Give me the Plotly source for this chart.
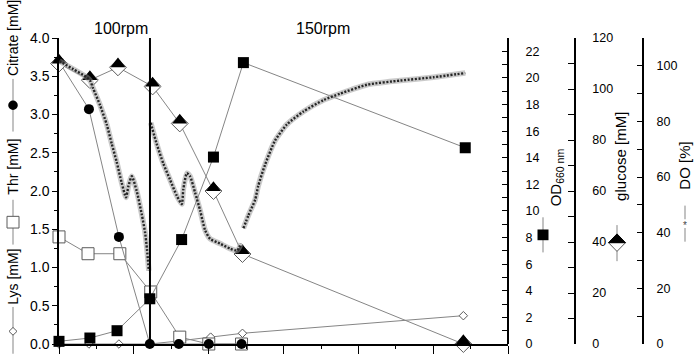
import plotly.graph_objects as go

# ---------------- data (time in h) ----------------
rpm_switch_time = 4.86
rpm_labels = ["100rpm", "150rpm"]

citrate_t = [0, 1.6, 3.2, 4.85, 6.4, 8.0, 9.75]
citrate = [3.69, 3.07, 1.40, 0, 0, 0, 0]

thr_t = [0, 1.55, 3.25, 4.9, 6.45, 8.0, 9.75]
thr = [1.40, 1.18, 1.18, 0.68, 0.09, 0.0, 0.0]

lys_t = [0, 1.6, 3.2, 4.85, 6.4, 8.1, 9.8, 21.6]
lys = [0, 0, 0, 0, 0.04, 0.09, 0.14, 0.37]

od_t = [0, 1.65, 3.1, 4.85, 6.55, 8.25, 9.85, 21.7]
od = [0.2, 0.45, 1.0, 3.4, 7.85, 14.05, 21.15, 14.75]

glc_t = [0, 1.65, 3.15, 5.0, 6.45, 8.25, 9.8, 21.6]
glc = [110, 103.5, 108.5, 101, 86.5, 60, 35.3, 0]

do_t = [0.02, 0.76, 1.48, 1.66, 1.83, 2.19, 2.55, 2.82, 3.08, 3.35, 3.58, 3.71, 3.89, 4.15, 4.42, 4.6, 4.7, 4.8,
        None,
        4.9, 5.22, 5.57, 5.93, 6.29, 6.56, 6.64, 6.83, 7.0, 7.27, 7.54, 7.8, 8.07, 8.6, 9.14, 9.51, 9.73,
        None,
        9.85, 10.12, 10.48, 10.64, 11.01, 11.54, 12.17, 13.06, 14.13, 15.02, 16.45, 18.23, 20.0, 21.7]
do = [101.7, 98.8, 95.9, 94.7, 91.8, 85.9, 78.9, 71.9, 65.5, 57.9, 52.7, 56.8, 60.3, 55, 46.6, 40, 34, 26.3,
      None,
      79.5, 71.9, 64.9, 59.1, 53.3, 50.3, 55.6, 61.4, 60.3, 54.4, 48.0, 41.0, 37.8, 36.1, 34.3, 33.6, 36.1,
      None,
      41.6, 46.3, 51.9, 56.8, 64.5, 73.1, 78.9, 83.6, 87.7, 90.0, 93.2, 94.7, 95.9, 97.4]

# ---------------- layout helpers ----------------
W, H = 700, 362
ML, MR, MT, MB = 59, 20, 38, 10
PW = W - ML - MR
PH = H - MT - MB


def fx(px):
    return (px - ML) / PW


def fy(py):
    return (H - MB - py) / PH


FONT = "Liberation Sans, Arial, sans-serif"
LINE_GRAY = "#858585"
EDGE_GRAY = "#5a5a5a"

fig = go.Figure()

# DO curve (halo + dotted core)
fig.add_trace(go.Scatter(x=do_t, y=do, yaxis="y4", mode="lines", connectgaps=False,
                         line=dict(color="rgba(150,150,150,0.5)", width=5.5, shape="spline", smoothing=0.6),
                         hoverinfo="skip", showlegend=False))
fig.add_trace(go.Scatter(x=do_t, y=do, yaxis="y4", mode="lines", connectgaps=False,
                         line=dict(color="#262626", width=2.4, shape="spline", smoothing=0.6, dash="2px,1.6px"),
                         showlegend=False))

# Lys
fig.add_trace(go.Scatter(x=lys_t, y=lys, yaxis="y", mode="lines+markers", cliponaxis=False,
                         line=dict(color=LINE_GRAY, width=1),
                         marker=dict(symbol="diamond", size=6.5, color="white",
                                     line=dict(color=EDGE_GRAY, width=1)),
                         showlegend=False))
# Thr
fig.add_trace(go.Scatter(x=thr_t, y=thr, yaxis="y", mode="lines+markers", cliponaxis=False,
                         line=dict(color=LINE_GRAY, width=1),
                         marker=dict(symbol="square", size=12, color="white",
                                     line=dict(color=EDGE_GRAY, width=1)),
                         showlegend=False))
# OD
fig.add_trace(go.Scatter(x=od_t, y=od, yaxis="y2", mode="lines+markers", cliponaxis=False,
                         line=dict(color=LINE_GRAY, width=1),
                         marker=dict(symbol="square", size=11, color="black",
                                     line=dict(color="black", width=0)),
                         showlegend=False))
# Glucose: white diamond + black upper half
fig.add_trace(go.Scatter(x=glc_t, y=glc, yaxis="y3", mode="lines+markers", cliponaxis=False,
                         line=dict(color=LINE_GRAY, width=1),
                         marker=dict(symbol="diamond", size=13, color="white",
                                     line=dict(color=EDGE_GRAY, width=1)),
                         showlegend=False))
fig.add_trace(go.Scatter(x=glc_t, y=glc, yaxis="y3", mode="markers", cliponaxis=False,
                         marker=dict(symbol="triangle-down", size=13, color="black", angle=180,
                                     standoff=3.25, line=dict(width=0)),
                         showlegend=False))
# Citrate
fig.add_trace(go.Scatter(x=citrate_t, y=citrate, yaxis="y", mode="lines+markers", cliponaxis=False,
                         line=dict(color=LINE_GRAY, width=1),
                         marker=dict(symbol="circle", size=10, color="black",
                                     line=dict(color="black", width=0)),
                         showlegend=False))

x_end = fx(508.3)
axis_common = dict(showgrid=False, zeroline=False, showline=True, linecolor="black", linewidth=1.5,
                   tickcolor="black", tickwidth=1.3,
                   tickfont=dict(family=FONT, size=12.5, color="black"))

fig.update_layout(
    width=W, height=H,
    margin=dict(l=ML, r=MR, t=MT, b=MB),
    paper_bgcolor="white", plot_bgcolor="white",
    showlegend=False,
    xaxis=dict(domain=[0, x_end], range=[0, 24], anchor="y", showgrid=False, zeroline=False,
               showline=True, linecolor="black", linewidth=1.5, ticks="outside", ticklen=8,
               tickcolor="black", tickwidth=1.3, dtick=4, tick0=0, showticklabels=False,
               minor=dict(dtick=2, ticks="outside", ticklen=3, tickcolor="black", tickwidth=1.3)),
    yaxis=dict(range=[0, 4], anchor="x", side="left", ticks="outside", ticklen=5, dtick=0.5,
               tickformat=".1f",
               minor=dict(dtick=0.25, ticks="outside", ticklen=3, tickcolor="black", tickwidth=1.3),
               **{**axis_common, "tickfont": dict(family=FONT, size=14, color="black")}),
    yaxis2=dict(range=[0, 23], overlaying="y", anchor="free", position=x_end, side="right",
                ticks="inside", ticklen=6, dtick=2,
                minor=dict(dtick=1, ticks="inside", ticklen=6, tickcolor="black", tickwidth=1.3),
                ticklabelstandoff=14, **axis_common),
    yaxis3=dict(range=[0, 120], overlaying="y", anchor="free", position=fx(575), side="right",
                ticks="inside", ticklen=6, dtick=20,
                minor=dict(dtick=10, ticks="inside", ticklen=6, tickcolor="black", tickwidth=1.3),
                ticklabelstandoff=14, **axis_common),
    yaxis4=dict(range=[0, 110], overlaying="y", anchor="free", position=fx(643.3), side="right",
                ticks="inside", ticklen=6, dtick=20,
                minor=dict(dtick=10, ticks="inside", ticklen=6, tickcolor="black", tickwidth=1.3),
                ticklabelstandoff=10, **axis_common),
)

# speed switch line
fig.add_shape(type="line", xref="x", yref="paper", x0=rpm_switch_time, x1=rpm_switch_time, y0=0, y1=1,
              line=dict(color="black", width=2))


def text_at(text, px, py, size=14, angle=0, color="black"):
    fig.add_annotation(text=text, xref="paper", yref="paper", x=fx(px), y=fy(py), textangle=angle,
                       xanchor="center", yanchor="middle", showarrow=False,
                       font=dict(family=FONT, size=size, color=color))


def vline(px, py0, py1, color=LINE_GRAY):
    fig.add_shape(type="line", xref="paper", yref="paper", x0=fx(px), x1=fx(px), y0=fy(py0), y1=fy(py1),
                  line=dict(color=color, width=1))


# rpm labels
text_at(rpm_labels[0], 121, 28, 16)
text_at(rpm_labels[1], 322.5, 28, 16)

# left axis title with legend symbols
LX = 13
text_at("Citrate [mM]", LX, 38, 14, -90)
vline(LX, 80, 134)
fig.add_shape(type="circle", xref="paper", yref="paper", x0=fx(LX - 4.8), x1=fx(LX + 4.8),
              y0=fy(102.2), y1=fy(111.8), fillcolor="black", line=dict(width=0))
text_at("Thr [mM]", LX, 170, 14, -90)
vline(LX, 204, 250)
fig.add_shape(type="rect", xref="paper", yref="paper", x0=fx(LX - 6), x1=fx(LX + 6),
              y0=fy(221), y1=fy(233), fillcolor="white", line=dict(color=EDGE_GRAY, width=1))
text_at("Lys [mM]", LX, 283, 14, -90)
vline(LX, 314, 362)
fig.add_shape(type="path", xref="paper", yref="paper",
              path=(f"M {fx(LX-4)},{fy(339)} L {fx(LX)},{fy(335)} L {fx(LX+4)},{fy(339)} "
                    f"L {fx(LX)},{fy(343)} Z"),
              fillcolor="white", line=dict(color=EDGE_GRAY, width=1))

# right axis titles
text_at("OD<sub>660 nm</sub>", 556, 181, 15, -90)
text_at("glucose [mM]", 621, 160, 15, -90)
text_at("DO [%]", 685, 169, 15, -90)

# legend symbols next to right titles
# OD: line + black square
vline(543, 222, 258)
fig.add_shape(type="rect", xref="paper", yref="paper", x0=fx(537.5), x1=fx(548.5), y0=fy(234.5), y1=fy(245.5),
              fillcolor="black", line=dict(width=0))
# glucose: line + half-filled diamond
gx, gy, gw, gh = 617, 248, 8.5, 9
vline(gx, 230, 267)
fig.add_shape(type="path", xref="paper", yref="paper",
              path=f"M {fx(gx-gw)},{fy(gy)} L {fx(gx)},{fy(gy+gh)} L {fx(gx+gw)},{fy(gy)} Z",
              fillcolor="white", line=dict(color=EDGE_GRAY, width=1))
fig.add_shape(type="path", xref="paper", yref="paper",
              path=f"M {fx(gx-gw)},{fy(gy)} L {fx(gx)},{fy(gy-gh)} L {fx(gx+gw)},{fy(gy)} Z",
              fillcolor="black", line=dict(color="black", width=1))
# DO: line + small star
vline(685, 210, 224)
vline(685, 233, 247)
text_at("*", 685, 230, 10, 0, "#444")

fig.write_html("out.html", config={"displayModeBar": False},
               post_script="document.body.style.margin='0px';document.body.style.overflow='hidden';")
